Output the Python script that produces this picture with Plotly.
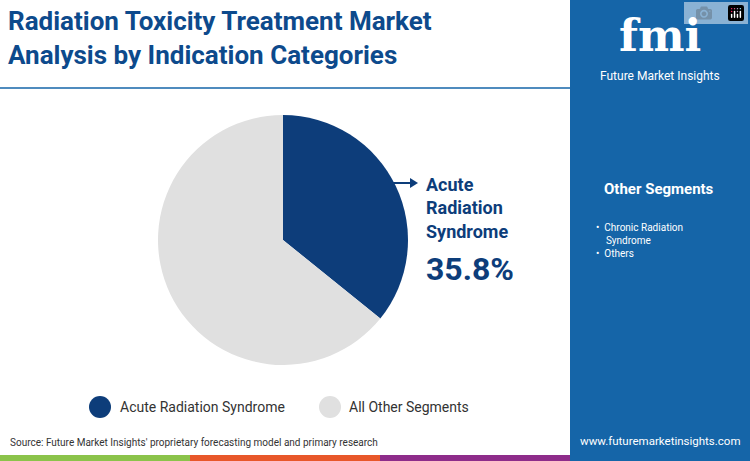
import plotly.graph_objects as go

labels = ['Acute Radiation Syndrome', 'All Other Segments']
values = [35.8, 64.2]
colors = ['#0d3d7a', '#e0e0e0']
other_segments = ['Chronic Radiation<br>Syndrome', 'Others']

W, H = 750, 461
def px_x(x): return x / W
def px_y(y): return 1 - y / H

fig = go.Figure(go.Pie(
    labels=labels, values=values, sort=False, direction='clockwise', rotation=0,
    marker=dict(colors=colors), textinfo='none', hoverinfo='label+percent',
    showlegend=False,
    domain=dict(x=[px_x(158), px_x(408)], y=[px_y(365), px_y(115)]),
))

shapes = [
    dict(type='rect', xref='paper', yref='paper', x0=px_x(570), x1=1, y0=0, y1=1,
         fillcolor='#1565a8', line_width=0, layer='below'),
    dict(type='line', xref='paper', yref='paper', x0=0, x1=px_x(570), y0=px_y(88), y1=px_y(88),
         line=dict(color='#1565a8', width=1.5)),
    dict(type='rect', xref='paper', yref='paper', x0=0, x1=px_x(190), y0=0, y1=px_y(455),
         fillcolor='#8bc34a', line_width=0),
    dict(type='rect', xref='paper', yref='paper', x0=px_x(190), x1=px_x(380), y0=0, y1=px_y(455),
         fillcolor='#e8572a', line_width=0),
    dict(type='rect', xref='paper', yref='paper', x0=px_x(380), x1=px_x(570), y0=0, y1=px_y(455),
         fillcolor='#8e2c8a', line_width=0),
    dict(type='line', xref='paper', yref='paper', x0=px_x(393), x1=px_x(412), y0=px_y(183), y1=px_y(183),
         line=dict(color='#0d3d7a', width=2)),
    dict(type='path', xref='paper', yref='paper',
         path=f'M {px_x(410)},{px_y(178)} L {px_x(418)},{px_y(183)} L {px_x(410)},{px_y(188)} Z',
         fillcolor='#0d3d7a', line_width=0),
]
# legend markers
for cx, c in [(100, colors[0]), (330, colors[1])]:
    shapes.append(dict(type='circle', xref='paper', yref='paper',
                       x0=px_x(cx - 11), x1=px_x(cx + 11), y0=px_y(418), y1=px_y(396),
                       fillcolor=c, line_width=0))

ann = [
    dict(x=px_x(6), y=px_y(4), xanchor='left', yanchor='top', align='left',
         text='<b>Radiation Toxicity Treatment Market<br>Analysis by Indication Categories</b>',
         font=dict(family='Roboto', size=26, color='#0d4a8c')),
    dict(x=px_x(424), y=px_y(172), xanchor='left', yanchor='top', align='left',
         text='<b>Acute<br>Radiation<br>Syndrome</b>',
         font=dict(family='Roboto', size=18, color='#0d3d7a')),
    dict(x=px_x(424), y=px_y(248), xanchor='left', yanchor='top', align='left',
         text='<b>35.8%</b>', font=dict(family='Roboto', size=32, color='#0d3d7a')),
    dict(x=px_x(118), y=px_y(407), xanchor='left', yanchor='middle',
         text=labels[0], font=dict(family='Roboto', size=14, color='#333')),
    dict(x=px_x(347), y=px_y(407), xanchor='left', yanchor='middle',
         text=labels[1], font=dict(family='Roboto', size=14, color='#333')),
    dict(x=px_x(8), y=px_y(442), xanchor='left', yanchor='middle',
         text="Source: Future Market Insights' proprietary forecasting model and primary research",
         font=dict(family='Roboto', size=10, color='#333')),
    dict(x=px_x(660), y=px_y(441), xanchor='center', yanchor='middle',
         text='www.futuremarketinsights.com', font=dict(family='Roboto', size=11.5, color='white')),
    dict(x=px_x(660), y=px_y(36), xanchor='center', yanchor='middle',
         text='<b>fmi</b>', font=dict(family='DejaVu Serif', size=44, color='white')),
    dict(x=px_x(660), y=px_y(76), xanchor='center', yanchor='middle',
         text='Future Market Insights', font=dict(family='Roboto', size=12, color='white')),
    dict(x=px_x(659), y=px_y(189), xanchor='center', yanchor='middle',
         text='<b>Other Segments</b>', font=dict(family='Roboto', size=15, color='white')),
    dict(x=px_x(594), y=px_y(220), xanchor='left', yanchor='top', align='left',
         text='•  ' + other_segments[0].replace('<br>', '<br>    ') + '<br>•  ' + other_segments[1],
         font=dict(family='Roboto', size=10, color='white')),
]
for a in ann:
    a.update(xref='paper', yref='paper', showarrow=False)

fig.update_layout(width=W, height=H, margin=dict(l=0, r=0, t=0, b=0),
                  paper_bgcolor='white', plot_bgcolor='white',
                  shapes=shapes, annotations=ann)
fig.write_html('out.html', post_script="document.body.style.margin='0';")
